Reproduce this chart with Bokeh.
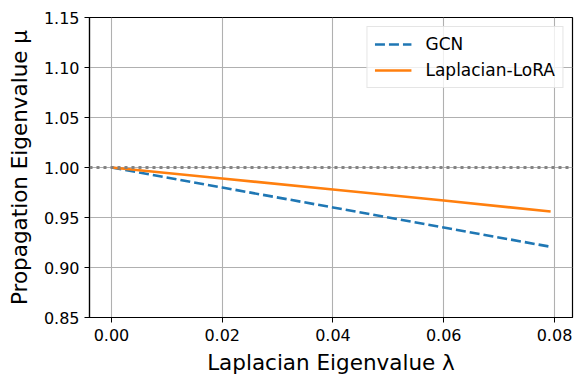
from bokeh.plotting import figure
from bokeh.models import Range1d, FixedTicker, Legend, LegendItem, Span
from bokeh.embed import file_html
from bokeh.resources import INLINE

# Data
lam = [0.0, 0.02, 0.04, 0.06, 0.0793]
gcn_mu = [1.0, 0.980, 0.960, 0.940, 0.9207]
lora_mu = [1.0, 0.989, 0.978, 0.967, 0.956]
x_ticks = [0.0, 0.02, 0.04, 0.06, 0.08]
x_tick_labels = ["0.00", "0.02", "0.04", "0.06", "0.08"]
y_ticks = [0.85, 0.90, 0.95, 1.00, 1.05, 1.10, 1.15]
y_tick_labels = ["0.85", "0.90", "0.95", "1.00", "1.05", "1.10", "1.15"]
ref_level = 1.0

FONT = "DejaVu Sans"

p = figure(width=583, height=384, output_backend="svg", toolbar_location=None,
           x_range=Range1d(-0.00397, 0.08325), y_range=Range1d(0.85, 1.15),
           min_border_left=89, min_border_right=11, min_border_top=17, min_border_bottom=67)

p.outline_line_color = "black"
p.outline_line_width = 1.2
p.outline_line_alpha = 1.0

for ax in (p.xaxis, p.yaxis):
    ax.axis_line_color = "black"
    ax.axis_line_width = 1.2
    ax.major_tick_out = 5
    ax.major_tick_in = 0
    ax.major_tick_line_color = "black"
    ax.minor_tick_line_color = None
    ax.major_label_text_font = FONT
    ax.major_label_text_font_size = "16px"
    ax.major_label_text_color = "black"
    ax.axis_label_text_font = FONT
    ax.axis_label_text_font_size = "21.5px"
    ax.axis_label_text_font_style = "normal"
    ax.axis_label_text_color = "black"

p.xaxis.ticker = FixedTicker(ticks=x_ticks)
p.yaxis.ticker = FixedTicker(ticks=y_ticks)
p.xaxis.major_label_overrides = {t: s for t, s in zip(x_ticks, x_tick_labels)}
p.yaxis.major_label_overrides = {t: s for t, s in zip(y_ticks, y_tick_labels)}
p.xaxis.major_label_standoff = 6
p.xaxis.axis_label = "Laplacian Eigenvalue λ"
p.yaxis.axis_label = "Propagation Eigenvalue μ"
p.xaxis.axis_label_standoff = 6
p.yaxis.axis_label_standoff = 9

for g in (p.xgrid, p.ygrid):
    g.grid_line_color = "#b0b0b0"
    g.grid_line_width = 1.1

p.add_layout(Span(location=ref_level, dimension="width", line_color="#808080",
                  line_alpha=0.95, line_width=3, line_dash="3 4"))

r1 = p.line(lam, gcn_mu, line_color="#1f77b4", line_width=2.6, line_dash="10 4")
r2 = p.line(lam, lora_mu, line_color="#ff7f0e", line_width=2.6)

legend = Legend(items=[LegendItem(label="GCN", renderers=[r1]),
                       LegendItem(label="Laplacian-LoRA", renderers=[r2])],
                location="top_right")
legend.label_text_font = FONT
legend.label_text_font_size = "17px"
legend.label_text_color = "black"
legend.glyph_width = 37
legend.glyph_height = 20
legend.label_height = 20
legend.label_standoff = 14
legend.spacing = 6
legend.padding = 7
legend.margin = 9
legend.border_line_color = "#cccccc"
legend.border_line_width = 1
legend.background_fill_alpha = 0.8
p.add_layout(legend)

open("out.html", "w").write(file_html(p, INLINE))
